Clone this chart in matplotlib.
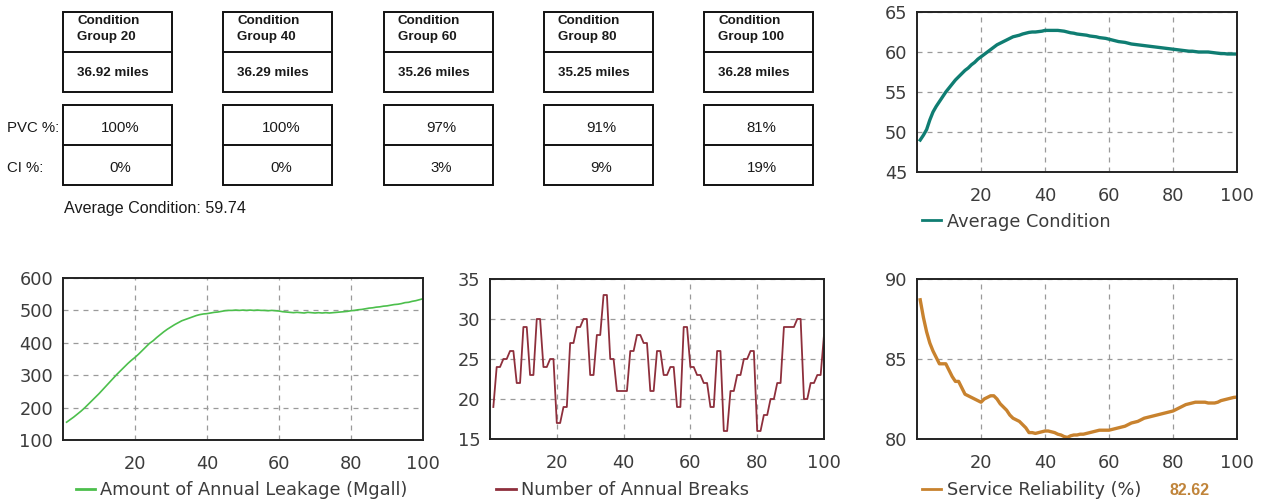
import numpy as np
import matplotlib
matplotlib.use('Agg')
import matplotlib.pyplot as plt
from matplotlib.patches import Rectangle

# --- table data -------------------------------------------------------
groups = [20, 40, 60, 80, 100]
miles = [36.92, 36.29, 35.26, 35.25, 36.28]
pvc_pct = [100, 100, 97, 91, 81]
ci_pct = [0, 0, 3, 9, 19]
avg_condition = 59.74
final_reliability = 82.62

# --- series (years 1..100) ---------------------------------------------
years = np.arange(1, 101)

condition = [
    49.0, 49.6, 50.3, 51.5, 52.5, 53.2, 53.8, 54.4, 55.0, 55.5,
    56.0, 56.5, 56.9, 57.3, 57.7, 58.0, 58.4, 58.7, 59.1, 59.4,
    59.7, 60.0, 60.3, 60.6, 60.9, 61.1, 61.3, 61.5, 61.7, 61.9,
    62.0, 62.1, 62.25, 62.35, 62.45, 62.5, 62.5, 62.55, 62.6, 62.7,
    62.7, 62.7, 62.7, 62.7, 62.65, 62.6, 62.5, 62.4, 62.35, 62.25,
    62.2, 62.15, 62.1, 62.0, 61.95, 61.9, 61.8, 61.75, 61.7, 61.6,
    61.5, 61.4, 61.3, 61.25, 61.2, 61.1, 61.0, 60.95, 60.9, 60.85,
    60.8, 60.75, 60.7, 60.65, 60.6, 60.55, 60.5, 60.45, 60.4, 60.35,
    60.3, 60.25, 60.2, 60.15, 60.1, 60.1, 60.05, 60.0, 60.0, 60.0,
    60.0, 59.95, 59.9, 59.85, 59.8, 59.8, 59.75, 59.75, 59.75, 59.74,
]

leakage = [
    155, 163, 171, 180, 189, 199, 210, 221, 232, 243,
    255, 267, 279, 291, 303, 314, 325, 336, 346, 355,
    365, 376, 387, 398, 406, 416, 425, 434, 442, 449,
    456, 462, 468, 472, 476, 480, 484, 487, 489, 490,
    492, 494, 495, 497, 499, 500, 500, 501, 500, 501,
    500, 501, 500, 501, 500, 500, 499, 500, 499, 498,
    496, 495, 494, 493, 494, 493, 492, 494, 493, 492,
    493, 492, 493, 492, 493, 494, 495, 496, 497, 499,
    500, 502, 503, 505, 507, 508, 510, 511, 513, 514,
    516, 518, 519, 521, 524, 525, 528, 530, 533, 536,
]

breaks = [
    19, 24, 24, 25, 25, 26, 26, 22, 22, 29,
    29, 23, 23, 30, 30, 24, 24, 25, 25, 17,
    17, 19, 19, 27, 27, 29, 29, 30, 30, 23,
    23, 28, 28, 33, 33, 25, 25, 21, 21, 21,
    21, 26, 26, 28, 28, 27, 27, 21, 21, 26,
    26, 23, 23, 24, 24, 19, 19, 29, 29, 24,
    24, 23, 23, 22, 22, 19, 19, 26, 26, 16,
    16, 21, 21, 23, 23, 25, 25, 26, 26, 16,
    16, 18, 18, 20, 20, 22, 22, 29, 29, 29,
    29, 30, 30, 20, 20, 22, 22, 23, 23, 28,
]

reliability = [
    88.7, 87.6, 86.7, 86.0, 85.5, 85.1, 84.7, 84.7, 84.7, 84.3,
    83.9, 83.6, 83.6, 83.2, 82.8, 82.7, 82.6, 82.5, 82.4, 82.3,
    82.5, 82.6, 82.7, 82.7, 82.5, 82.2, 82.0, 81.8, 81.5, 81.3,
    81.2, 81.1, 80.9, 80.7, 80.4, 80.4, 80.35, 80.4, 80.45, 80.5,
    80.5, 80.45, 80.4, 80.3, 80.25, 80.15, 80.1, 80.2, 80.25, 80.25,
    80.3, 80.3, 80.35, 80.4, 80.45, 80.5, 80.55, 80.55, 80.55, 80.55,
    80.6, 80.65, 80.7, 80.75, 80.8, 80.9, 81.0, 81.05, 81.1, 81.2,
    81.3, 81.35, 81.4, 81.45, 81.5, 81.55, 81.6, 81.65, 81.7, 81.75,
    81.85, 81.95, 82.05, 82.15, 82.2, 82.25, 82.3, 82.3, 82.3, 82.3,
    82.25, 82.25, 82.25, 82.3, 82.4, 82.45, 82.5, 82.55, 82.6, 82.62,
]

W, H = 1274, 501
fig = plt.figure(figsize=(W / 100, H / 100), dpi=100)
fig.patch.set_facecolor('white')

TICK_FS = 12.8
tick_col = '#3c3c3c'


def px_axes(left, top, right, bottom):
    # axes placed from pixel box
    return fig.add_axes([left / W, 1 - bottom / H, (right - left) / W, (bottom - top) / H])


def style(ax, yticks, label, leg_x, leg_y):
    ax.set_xlim(0, 100)
    ax.set_ylim(yticks[0], yticks[-1])
    ax.set_xticks([20, 40, 60, 80, 100])
    ax.set_yticks(yticks)
    ax.tick_params(length=0, labelsize=TICK_FS, labelcolor=tick_col)
    ax.tick_params(axis='x', pad=11)
    ax.tick_params(axis='y', pad=7)
    for s in ax.spines.values():
        s.set_color('#222222')
        s.set_linewidth(1.4)
    ax.grid(True, color='#9a9a9a', linestyle=(0, (4, 4)), linewidth=0.9)
    ax.set_axisbelow(True)
    leg = ax.legend([label], loc='center left', bbox_to_anchor=(leg_x, leg_y),
                    frameon=False, handlelength=1.1, handletextpad=0.3,
                    borderpad=0, borderaxespad=0, fontsize=TICK_FS)
    for t in leg.get_texts():
        t.set_color(tick_col)
    for h in leg.get_lines():
        h.set_linewidth(2)


# top right: average condition
ax1 = px_axes(917, 12, 1237, 172)
ax1.plot(years, condition, color='#0f7d72', lw=2.4)
style(ax1, [45, 50, 55, 60, 65], 'Average Condition', 0.015, -0.31)

# bottom left: leakage
ax2 = px_axes(63, 278, 423, 440)
ax2.plot(years, leakage, color='#4cbf4c', lw=1.2)
style(ax2, [100, 200, 300, 400, 500, 600], 'Amount of Annual Leakage (Mgall)', 0.035, -0.31)

# bottom middle: breaks
ax3 = px_axes(490, 279, 824, 439)
ax3.plot(years, breaks, color='#8e2f3c', lw=1.3)
style(ax3, [15, 20, 25, 30, 35], 'Number of Annual Breaks', 0.018, -0.32)

# bottom right: reliability
ax4 = px_axes(917, 279, 1237, 439)
ax4.plot(years, reliability, color='#c8822e', lw=2.4)
style(ax4, [80, 85, 90], 'Service Reliability (%)', 0.015, -0.32)
ax4.text(0.79, -0.32, f'{final_reliability:.2f}', transform=ax4.transAxes,
         ha='left', va='center', fontsize=11.5, fontweight='bold', color='#c0843a',
         family='Liberation Sans')

# --- condition group tables (drawn in pixel space) -----------------------
axt = fig.add_axes([0, 0, 1, 1])
axt.set_xlim(0, W)
axt.set_ylim(H, 0)
axt.axis('off')

box_w = 109
step = 160.3
for i, g in enumerate(groups):
    x0 = 63 + i * step
    # upper box: header + length
    axt.add_patch(Rectangle((x0, 12), box_w, 80, fill=False, ec='#111111', lw=1.4))
    axt.plot([x0, x0 + box_w], [52, 52], color='#111111', lw=1.4)
    axt.text(x0 + 14, 21, 'Condition', fontsize=9.6, fontweight='bold',
             family='Liberation Sans', va='center', color='#1a1a1a')
    axt.text(x0 + 14, 37, f'Group {g}', fontsize=9.6, fontweight='bold',
             family='Liberation Sans', va='center', color='#1a1a1a')
    axt.text(x0 + 14, 73, f'{miles[i]:.2f} miles', fontsize=9.6, fontweight='bold',
             family='Liberation Sans', va='center', color='#1a1a1a')
    # lower box: material shares
    axt.add_patch(Rectangle((x0, 105), box_w, 80, fill=False, ec='#111111', lw=1.4))
    axt.plot([x0, x0 + box_w], [145, 145], color='#111111', lw=1.4)
    axt.text(x0 + box_w / 2 + 3, 128, f'{pvc_pct[i]}%', fontsize=10.8,
             family='Liberation Sans', ha='center', va='center', color='#1a1a1a')
    axt.text(x0 + box_w / 2 + 3, 168, f'{ci_pct[i]}%', fontsize=10.8,
             family='Liberation Sans', ha='center', va='center', color='#1a1a1a')

axt.text(7, 128, 'PVC %:', fontsize=10.8, family='Liberation Sans', va='center', color='#1a1a1a')
axt.text(7, 168, 'CI %:', fontsize=10.8, family='Liberation Sans', va='center', color='#1a1a1a')
axt.text(64, 209, f'Average Condition: {avg_condition:.2f}', fontsize=11.6,
         family='Liberation Sans', va='center', color='#1a1a1a')

fig.savefig('out.png', dpi=100)
